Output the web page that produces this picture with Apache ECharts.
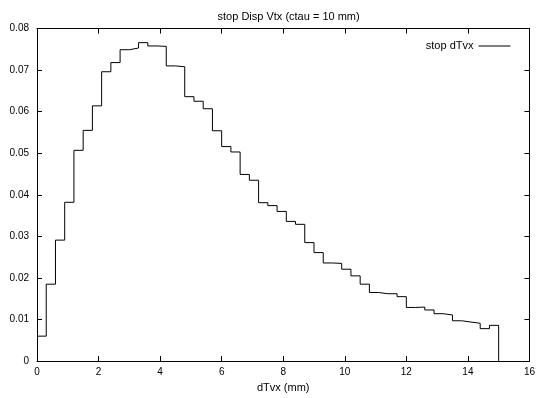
<!DOCTYPE html>
<html>
<head>
<meta charset="utf-8">
<script src="https://cdn.jsdelivr.net/npm/echarts@6/dist/echarts.min.js"></script>
<style>
html,body{margin:0;padding:0;background:#fff;}
#chart{width:538px;height:398px;}
</style>
</head>
<body>
<div id="chart"></div>
<script>
// Bin left edges (mm), bin width 0.3
const binLeft = [0,0.3,0.6,0.9,1.2,1.5,1.8,2.1,2.4,2.7,3.0,3.3,3.6,3.9,4.2,4.5,4.8,5.1,5.4,5.7,
  6.0,6.3,6.6,6.9,7.2,7.5,7.8,8.1,8.4,8.7,9.0,9.3,9.6,9.9,10.2,10.5,10.8,11.1,11.4,11.7,
  12.0,12.3,12.6,12.9,13.2,13.5,13.8,14.1,14.4,14.7];
const histEnd = 15.0;
const counts = [0.0060,0.0185,0.0291,0.0382,0.0507,0.0555,0.0614,0.0696,0.0718,0.0749,
  0.0753,0.0766,0.0758,0.0757,0.0710,0.0708,0.0636,0.0625,0.0607,0.0554,
  0.0516,0.0503,0.0449,0.0435,0.0381,0.0374,0.0360,0.0336,0.0329,0.0285,
  0.0261,0.0236,0.0235,0.0221,0.0205,0.0185,0.0165,0.0162,0.0162,0.0155,
  0.0129,0.0130,0.0123,0.0114,0.0111,0.0097,0.0094,0.0091,0.0078,0.0086];
const xTicks = [0,2,4,6,8,10,12,14,16];
const yTicks = [0,0.01,0.02,0.03,0.04,0.05,0.06,0.07,0.08];
const titleText = 'stop Disp Vtx (ctau = 10 mm)';
const xName = 'dTvx (mm)';
const seriesName = 'stop dTvx';

const data = binLeft.map((x,i)=>[x,counts[i]]);
data.push([histEnd, counts[counts.length-1]]);
data.push([histEnd, 0]);

const font = 'Liberation Sans, Arial, Helvetica, sans-serif';
const chart = echarts.init(document.getElementById('chart'), null, {renderer:'canvas'});
const axisCommon = {
  axisLine:{show:true, onZero:false, lineStyle:{color:'#000', width:1}},
  axisTick:{show:true, inside:true, length:5, lineStyle:{color:'#000', width:1}},
  splitLine:{show:false}
};
chart.setOption({
  animation:false,
  backgroundColor:'#fff',
  title:{text:titleText, left:283.6, textAlign:'center', top:6,
    textStyle:{fontFamily:font, fontSize:11, fontWeight:'normal', color:'#000'}},
  legend:{data:[seriesName], right:22, top:35.5, align:'right', itemWidth:32, itemHeight:10, itemGap:5,
    itemStyle:{opacity:0}, lineStyle:{color:'#000', width:1},
    textStyle:{fontFamily:font, fontSize:11, color:'#000'}},
  grid:{left:37, right:7.5, top:28.5, bottom:34, containLabel:false},
  xAxis:[
    Object.assign({type:'value', min:0, max:16, interval:2, position:'bottom',
      name:xName, nameLocation:'middle', nameGap:20,
      nameTextStyle:{fontFamily:font, fontSize:11, color:'#000'},
      axisLabel:{fontFamily:font, fontSize:10, color:'#000', margin:6}}, axisCommon),
    Object.assign({type:'value', min:0, max:16, interval:2, position:'top',
      axisLabel:{show:false}}, axisCommon)
  ],
  yAxis:[
    Object.assign({type:'value', min:0, max:0.08, interval:0.01, position:'left',
      axisLabel:{fontFamily:font, fontSize:10, color:'#000', margin:8,
        formatter:v=> v===0 ? '0' : v.toFixed(2)}}, axisCommon),
    Object.assign({type:'value', min:0, max:0.08, interval:0.01, position:'right',
      axisLabel:{show:false}}, axisCommon)
  ],
  series:[{
    name:seriesName, type:'line', step:'end', data:data, symbol:'none',
    lineStyle:{color:'#000', width:1}, itemStyle:{color:'#000'}
  }]
});
</script>
</body>
</html>
